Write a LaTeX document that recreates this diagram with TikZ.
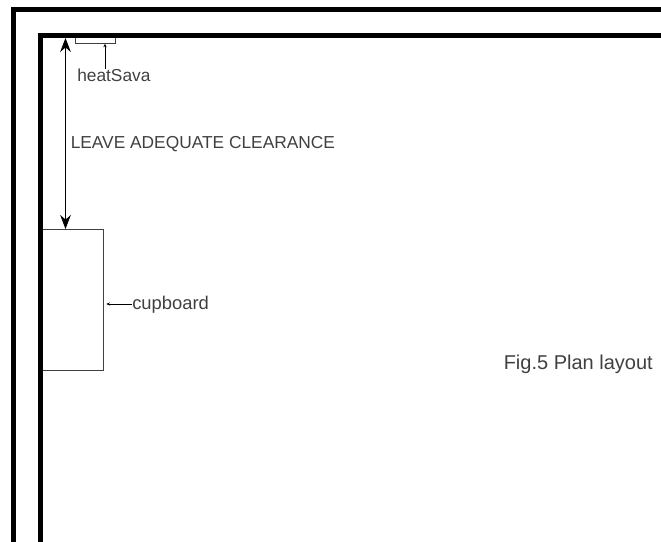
\documentclass[tikz,border=0pt]{standalone}
\usepackage{xcolor}
\usepackage{fontspec}
\setmainfont{Liberation Sans}
\usetikzlibrary{arrows.meta}
\definecolor{labelgrey}{gray}{0.25}
\tikzset{
    wall/.style={line width=3.75pt, black},
    outline/.style={draw=black!75, line width=0.6pt, inner sep=0pt, anchor=north west},
    label/.style={text=labelgrey, font=\fontsize{13pt}{15pt}\selectfont, inner sep=0pt, anchor=base west},
    leader/.style={black, line width=0.5pt, -{Stealth[length=2.6pt, width=2.4pt]}},
    clearance/.style={black, line width=0.75pt, {Stealth[length=10.5pt, width=8pt]}-{Stealth[length=10.5pt, width=8pt]}},
}
\begin{document}
\begin{tikzpicture}[x=0.75pt, y=-0.75pt]
    \useasboundingbox (0, 0) rectangle (661, 542);

    \node[outline, minimum width=30pt, minimum height=7.1pt] (heatsavabox) at (74.5, 33.5) {};
    \node[outline, minimum width=47pt, minimum height=106pt] (cupboard) at (40, 229) {};

    \coordinate (outerbottom) at (13.5, 542);
    \coordinate (outertop) at (13.5, 10);
    \coordinate (outerright) at (661, 10);
    \coordinate (innerbottom) at (40, 542);
    \coordinate (innertop) at (40, 36);
    \coordinate (innerright) at (661, 36);

    \draw[wall, line join=miter] (outerbottom) -- (outertop) -- (outerright);
    \draw[wall, line join=miter] (innerbottom) -- (innertop) -- (innerright);

    \node[label] (heatsava) at (77, 82) {heatSava};
    \node[label] (clearancetext) at (70.5, 148) {LEAVE ADEQUATE CLEARANCE};
    \node[label, font=\fontsize{13.8pt}{15pt}\selectfont] (cupboardtext) at (132, 309) {cupboard};
    \node[label, font=\fontsize{15pt}{17pt}\selectfont, anchor=base east] (figtext) at (653, 369.5) {Fig.5 Plan layout};

    \coordinate (heatsavafoot) at (105, 69);
    \coordinate (cupboardfoot) at (132, 304);
    \coordinate (clearancetop) at (65.5, 38);
    \coordinate (clearancefoot) at (65.5, 229);

    \draw[leader] (heatsavafoot) -- (heatsavafoot |- heatsavabox.south);
    \draw[leader, shorten >=2.2pt] (cupboardfoot) -- (cupboardfoot -| cupboard.east);
    \draw[clearance] (clearancetop) -- (clearancefoot);
\end{tikzpicture}
\end{document}
